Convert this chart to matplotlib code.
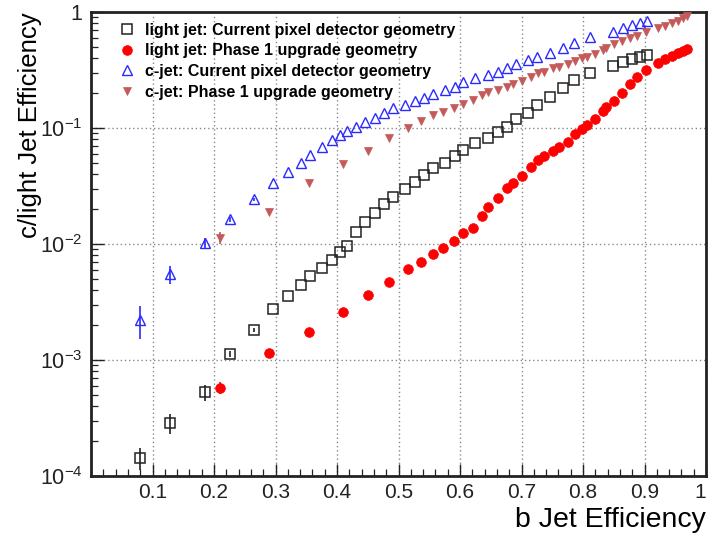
import numpy as np
import matplotlib
matplotlib.use("Agg")
import matplotlib.pyplot as plt
from matplotlib.lines import Line2D
from matplotlib.ticker import FixedLocator, FuncFormatter, LogLocator, NullFormatter, MultipleLocator

plt.rcParams['font.family'] = ['Liberation Sans', 'DejaVu Sans']
plt.rcParams['mathtext.fontset'] = 'custom'
plt.rcParams['mathtext.rm'] = 'Liberation Sans'
plt.rcParams['mathtext.it'] = 'Liberation Sans:italic'
plt.rcParams['mathtext.bf'] = 'Liberation Sans:bold'

# ---- data: current pixel detector geometry ----
b_eff_current = [0.080, 0.128, 0.185, 0.226, 0.265, 0.296, 0.320, 0.341, 0.356, 0.376,
                 0.392, 0.405, 0.416, 0.431, 0.446, 0.462, 0.476, 0.491, 0.511, 0.527,
                 0.541, 0.556, 0.576, 0.592, 0.605, 0.624, 0.646, 0.662, 0.676, 0.691,
                 0.711, 0.725, 0.746, 0.767, 0.785, 0.811, 0.848, 0.865, 0.880, 0.893,
                 0.904]
light_current = [1.43e-4, 2.86e-4, 5.30e-4, 1.13e-3, 1.81e-3, 2.75e-3, 3.56e-3, 4.43e-3, 5.30e-3, 6.21e-3,
                 7.28e-3, 8.53e-3, 9.61e-3, 1.27e-2, 1.55e-2, 1.85e-2, 2.21e-2, 2.54e-2, 2.98e-2, 3.42e-2,
                 3.94e-2, 4.52e-2, 4.99e-2, 5.74e-2, 6.46e-2, 7.43e-2, 8.20e-2, 9.24e-2, 0.102, 0.120,
                 0.135, 0.158, 0.185, 0.221, 0.259, 0.298, 0.342, 0.371, 0.394, 0.409,
                 0.426]
c_current = [2.21e-3, 5.51e-3, 1.02e-2, 1.64e-2, 2.44e-2, 3.36e-2, 4.18e-2, 4.99e-2, 5.85e-2, 6.86e-2,
             7.88e-2, 8.70e-2, 9.42e-2, 0.102, 0.113, 0.122, 0.135, 0.149, 0.158, 0.171,
             0.181, 0.196, 0.213, 0.226, 0.249, 0.270, 0.286, 0.304, 0.329, 0.356,
             0.386, 0.409, 0.443, 0.489, 0.541, 0.609, 0.672, 0.728, 0.773, 0.804,
             0.836]
light_current_relerr = [0.22, 0.20, 0.16, 0.06, 0.04] + [0.0] * 36
c_current_relerr = [0.32, 0.18, 0.10, 0.05, 0.03] + [0.0] * 36

# ---- data: Phase 1 upgrade geometry ----
b_eff_phase1 = [0.210, 0.289, 0.354, 0.410, 0.450, 0.485, 0.515, 0.537, 0.556, 0.572,
                0.590, 0.605, 0.621, 0.636, 0.646, 0.662, 0.676, 0.686, 0.701, 0.715,
                0.727, 0.737, 0.751, 0.761, 0.776, 0.787, 0.798, 0.807, 0.820, 0.833,
                0.837, 0.850, 0.863, 0.876, 0.888, 0.902, 0.922, 0.933, 0.945, 0.954,
                0.963, 0.969]
light_phase1 = [5.74e-4, 1.15e-3, 1.74e-3, 2.59e-3, 3.63e-3, 4.70e-3, 6.08e-3, 7.00e-3, 8.20e-3, 9.24e-3,
                1.06e-2, 1.24e-2, 1.37e-2, 1.74e-2, 2.08e-2, 2.49e-2, 3.04e-2, 3.36e-2, 3.86e-2, 4.61e-2,
                5.30e-2, 5.74e-2, 6.33e-2, 6.86e-2, 7.57e-2, 8.88e-2, 9.80e-2, 0.106, 0.120, 0.140,
                0.152, 0.171, 0.200, 0.239, 0.275, 0.316, 0.363, 0.394, 0.418, 0.443,
                0.461, 0.480]
c_phase1 = [1.13e-2, 1.89e-2, 3.36e-2, 4.90e-2, 6.33e-2, 8.20e-2, 0.100, 0.115, 0.129, 0.137,
            0.149, 0.161, 0.174, 0.192, 0.204, 0.213, 0.226, 0.239, 0.254, 0.275,
            0.298, 0.304, 0.329, 0.336, 0.356, 0.378, 0.401, 0.410, 0.435, 0.470,
            0.489, 0.530, 0.562, 0.597, 0.621, 0.672, 0.728, 0.757, 0.804, 0.836,
            0.888, 0.924]
light_phase1_relerr = [0.12, 0.04] + [0.0] * 40
c_phase1_relerr = [0.12, 0.05] + [0.0] * 40

labels = ["light jet: Current pixel detector geometry",
          "light jet: Phase 1 upgrade geometry",
          "c-jet: Current pixel detector geometry",
          "c-jet: Phase 1 upgrade geometry"]

x_ticks = [0.1, 0.2, 0.3, 0.4, 0.5, 0.6, 0.7, 0.8, 0.9, 1.0]
y_ticks = [1e-4, 1e-3, 1e-2, 1e-1, 1.0]

fig = plt.figure(figsize=(7.08, 5.33), dpi=100)
ax = fig.add_axes([91 / 708, 57 / 533, 615 / 708, 464 / 533])

styles = [
    dict(marker='s', ms=7.2, mfc='none', mec='#222222', mew=1.1),
    dict(marker='o', ms=7, mfc='#ff0000', mec='#ff0000', mew=0.5),
    dict(marker='^', ms=7.5, mfc='none', mec='#2a2aff', mew=1.0),
    dict(marker='v', ms=6, mfc='#c45a5a', mec='#c45a5a', mew=0.5),
]

def draw(x, y, rel, st):
    x = np.asarray(x); y = np.asarray(y); rel = np.asarray(rel)
    err = y * rel
    ax.errorbar(x, y, yerr=err, linestyle='none', elinewidth=1.2, capsize=0,
                ecolor=st['mec'], zorder=3, **st)

draw(b_eff_current, light_current, light_current_relerr, styles[0])
draw(b_eff_phase1, light_phase1, light_phase1_relerr, styles[1])
draw(b_eff_current, c_current, c_current_relerr, styles[2])
draw(b_eff_phase1, c_phase1, c_phase1_relerr, styles[3])

ax.set_yscale('log')
ax.set_xlim(0.0, 1.0)
ax.set_ylim(1e-4, 1.0)

ax.xaxis.set_major_locator(FixedLocator(x_ticks))
ax.xaxis.set_minor_locator(MultipleLocator(0.02))
ax.xaxis.set_major_formatter(FuncFormatter(lambda v, p: "1" if abs(v - 1) < 1e-9 else f"{v:.1f}"))
ax.yaxis.set_major_locator(FixedLocator(y_ticks))
ax.yaxis.set_minor_locator(LogLocator(base=10, subs=np.arange(2, 10)))
ax.yaxis.set_minor_formatter(NullFormatter())

def yfmt(v, p):
    if abs(v - 1.0) < 1e-12:
        return "1"
    e = int(round(np.log10(v)))
    return r"$\mathregular{10^{%d}}$" % e
ax.yaxis.set_major_formatter(FuncFormatter(yfmt))

ax.tick_params(which='both', direction='in', top=False, right=False, colors='#222222')
ax.tick_params(which='major', length=9, width=1.0, labelsize=15.5)
ax.tick_params(which='minor', length=5, width=0.9)
ax.tick_params(axis='x', which='major', pad=5, labelsize=15)
ax.tick_params(axis='y', which='major', pad=6)

# keep the "1" at the right end inside the picture
fig.canvas.draw()
for t in ax.get_xticklabels():
    if t.get_text() == "1":
        t.set_horizontalalignment('right')
        t.set_x(1.0)

ax.grid(True, which='major', linestyle=(0, (1, 2)), color='#888888', linewidth=1.0)
ax.set_axisbelow(True)
for s in ax.spines.values():
    s.set_linewidth(2.0)
    s.set_color('#222222')

ax.set_xlabel("b Jet Efficiency", fontsize=20.5, loc='right')
ax.xaxis.set_label_coords(1.0, -(533 - 476) / 464)
ax.xaxis.label.set_va('bottom')
ax.set_ylabel("c/light Jet Efficiency", fontsize=18.5, loc='top')
ax.yaxis.set_label_coords(-49 / 615, 1.0)

handles = [Line2D([], [], linestyle='none', **st) for st in styles]
leg = ax.legend(handles, labels, loc='upper left', bbox_to_anchor=(0.03, 0.998), frameon=False,
                prop={'weight': 'bold', 'size': 11.5}, handletextpad=0.6,
                labelspacing=0.36, handlelength=1.0, borderaxespad=0.2)

fig.savefig("out.png", dpi=100)
